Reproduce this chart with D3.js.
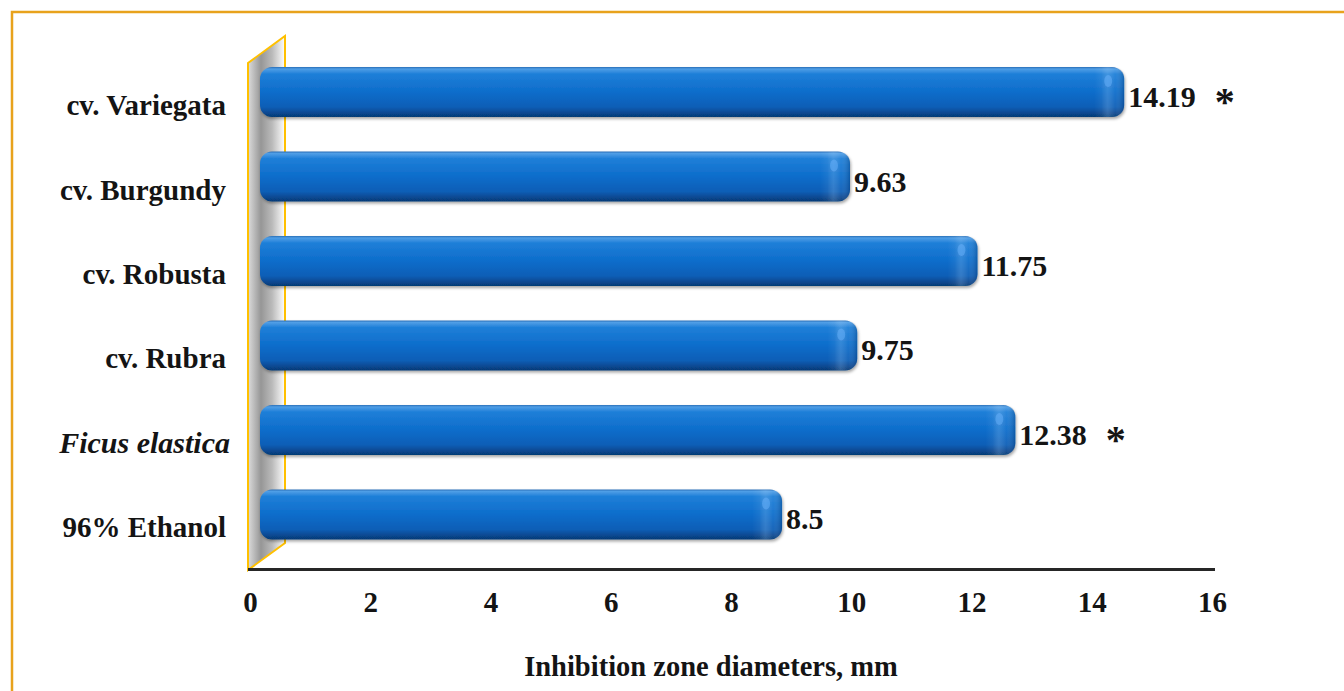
<!DOCTYPE html>
<html>
<head>
<meta charset="utf-8">
<script src="https://cdn.jsdelivr.net/npm/d3@7"></script>
<style>
  html, body { margin: 0; padding: 0; background: #fff; }
  svg { display: block; }
  text { font-family: "Liberation Serif", "Times New Roman", serif; font-weight: bold; fill: #141414; }
</style>
</head>
<body>
<svg id="chart" width="1344" height="691"></svg>
<script>
// ---- data ----
const categories = ["cv. Variegata", "cv. Burgundy", "cv. Robusta", "cv. Rubra", "Ficus elastica", "96% Ethanol"];
const values = [14.19, 9.63, 11.75, 9.75, 12.38, 8.5];
const valueLabels = ["14.19", "9.63", "11.75", "9.75", "12.38", "8.5"];
const significant = [true, false, false, false, true, false];
const italicCategory = [false, false, false, false, true, false];
const xTicks = [0, 2, 4, 6, 8, 10, 12, 14, 16];
const xTitle = "Inhibition zone diameters, mm";

const svg = d3.select("#chart");
svg.append("rect").attr("width", 1344).attr("height", 691).attr("fill", "#fff");

const defs = svg.append("defs");
const barGrad = defs.append("linearGradient").attr("id", "barGrad")
  .attr("x1", 0).attr("y1", 0).attr("x2", 0).attr("y2", 1);
[[0, "#2a6fb8"], [0.04, "#4f9ee6"], [0.14, "#1f7fd8"], [0.5, "#0d6dcb"], [0.8, "#0a5eb6"], [0.93, "#07468d"], [1, "#063a74"]]
  .forEach(([o, c]) => barGrad.append("stop").attr("offset", o).attr("stop-color", c));

const capGrad = defs.append("linearGradient").attr("id", "capGrad")
  .attr("x1", 0).attr("y1", 0).attr("x2", 1).attr("y2", 0);
[[0, "#ffffff", 0], [0.25, "#ffffff", 0.06], [0.45, "#bfe0ff", 0.22], [0.7, "#ffffff", 0.05], [1, "#001a40", 0.25]]
  .forEach(([o, c, a]) => capGrad.append("stop").attr("offset", o).attr("stop-color", c).attr("stop-opacity", a));

const wallGrad = defs.append("linearGradient").attr("id", "wallGrad")
  .attr("x1", 0).attr("y1", 0).attr("x2", 1).attr("y2", 0);
[[0, "#dcdcdc"], [0.35, "#969696"], [0.65, "#bababa"], [1, "#ffffff"]]
  .forEach(([o, c]) => wallGrad.append("stop").attr("offset", o).attr("stop-color", c));

const shadow = defs.append("filter").attr("id", "shadow")
  .attr("x", "-5%").attr("y", "-20%").attr("width", "110%").attr("height", "150%");
shadow.append("feDropShadow").attr("dx", 1).attr("dy", 2).attr("stdDeviation", 1.8)
  .attr("flood-color", "#000").attr("flood-opacity", 0.35);

// ---- outer frame ----
svg.append("path").attr("d", "M12,691 L12,12 L1344,12")
  .attr("fill", "none").attr("stroke", "#e8a21c").attr("stroke-width", 2.5);

// ---- scales ----
const x = d3.scaleLinear().domain([0, 16]).range([250, 1212]);
const y = d3.scaleBand().domain(categories).range([49.8, 556.7])
  .paddingInner(0.408).paddingOuter(0.204);

// ---- back wall (3D) ----
const wallDepthX = 37, wallDepthY = 27;
const wallTop = 63, wallBottom = 570, wallLeft = 248;
svg.append("path")
  .attr("d", `M${wallLeft},${wallBottom} L${wallLeft},${wallTop} L${wallLeft + wallDepthX},${wallTop - wallDepthY} L${wallLeft + wallDepthX},${wallBottom - wallDepthY} Z`)
  .attr("fill", "url(#wallGrad)")
  .attr("stroke", "#ffc000").attr("stroke-width", 2).attr("stroke-linejoin", "miter");

// ---- x axis ----
const axisY = 569;
const xAxis = d3.axisBottom(x).tickValues(xTicks).tickSize(0).tickPadding(0).tickFormat(d3.format("d"));
const axisG = svg.append("g").attr("transform", `translate(0,${axisY})`).call(xAxis);
axisG.select(".domain").attr("stroke", "#262626").attr("stroke-width", 3).attr("d", `M${wallLeft},0.5H1215`);
axisG.selectAll(".tick text")
  .attr("y", 43).attr("dy", null)
  .style("font-family", '"Liberation Serif", serif').style("font-weight", "bold")
  .style("font-size", "29px").attr("fill", "#141414");

// ---- bars ----
const startOff = 10, endOff = 21, r = 12;
function roundedRight(x0, x1, y0, h, rad) {
  return `M${x0},${y0} H${x1 - rad} Q${x1},${y0} ${x1},${y0 + rad} V${y0 + h - rad} Q${x1},${y0 + h} ${x1 - rad},${y0 + h} H${x0} Z`;
}
const barG = svg.append("g");
categories.forEach((c, i) => {
  const y0 = y(c), h = y.bandwidth();
  const x0 = x(0) + startOff, x1 = x(values[i]) + endOff;
  barG.append("rect")
    .attr("x", x0).attr("y", y0).attr("width", x1 - x0).attr("height", h)
    .attr("rx", r).attr("ry", r)
    .attr("fill", "url(#barGrad)").attr("filter", "url(#shadow)");
  barG.append("path")
    .attr("d", roundedRight(x1 - 30, x1, y0, h, r))
    .attr("fill", "url(#capGrad)");
  barG.append("ellipse")
    .attr("cx", x1 - 16).attr("cy", y0 + 14).attr("rx", 4).attr("ry", 6)
    .attr("fill", "#6fb6ff").attr("opacity", 0.45);
});

// ---- value labels ----
const labG = svg.append("g");
categories.forEach((c, i) => {
  const cy = y(c) + y.bandwidth() / 2;
  const tx = x(values[i]) + endOff + 4;
  const t = labG.append("text")
    .attr("x", tx).attr("y", cy + 15)
    .style("font-size", "30px")
    .text(valueLabels[i]);
  if (significant[i]) {
    const w = t.node().getComputedTextLength();
    labG.append("text")
      .attr("x", tx + w + 19).attr("y", cy + 23)
      .style("font-size", "40px")
      .text("*");
  }
});

// ---- category labels ----
const catG = svg.append("g");
categories.forEach((c, i) => {
  const cy = y(c) + y.bandwidth() / 2;
  catG.append("text")
    .attr("x", italicCategory[i] ? 230 : 226).attr("y", cy + 23)
    .attr("text-anchor", "end")
    .style("font-size", italicCategory[i] ? "30px" : "29px")
    .style("font-style", italicCategory[i] ? "italic" : "normal")
    .text(c);
});

// ---- axis title ----
svg.append("text")
  .attr("x", 711).attr("y", 676)
  .attr("text-anchor", "middle")
  .style("font-size", "28.5px")
  .text(xTitle);
</script>
</body>
</html>
